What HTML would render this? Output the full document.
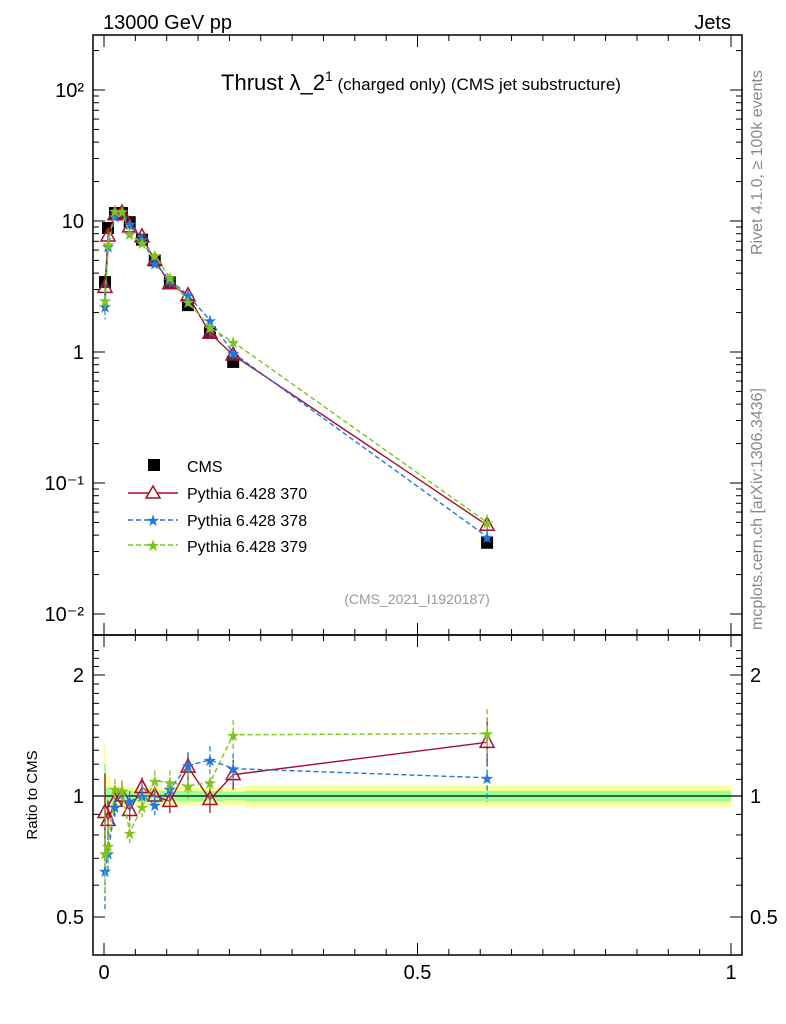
<!DOCTYPE html>
<html><head><meta charset="utf-8"><style>
body{margin:0;background:#fff;}
svg{font-family:"Liberation Sans",sans-serif;display:block}
</style></head><body>
<svg id="c" width="786" height="1024" xmlns="http://www.w3.org/2000/svg">
<rect x="93" y="35" width="649" height="600" fill="none" stroke="#000" stroke-width="1.5"/>
<rect x="93" y="635" width="649" height="320" fill="none" stroke="#000" stroke-width="1.5"/>
<g id="bands"></g><g id="ticks"></g><g id="marks"></g>
<text x="103" y="29" font-size="20">13000 GeV pp</text>
<text x="731" y="29" font-size="20" text-anchor="end">Jets</text>
<text x="421" y="90" font-size="22" text-anchor="middle">Thrust λ_2<tspan font-size="14" dy="-9">1</tspan><tspan font-size="17" dy="9"> (charged only) (CMS jet substructure)</tspan></text>
<text x="417" y="604" font-size="14" fill="#999" text-anchor="middle">(CMS_2021_I1920187)</text>
<text transform="translate(762,255) rotate(-90)" font-size="16" fill="#888">Rivet 4.1.0, ≥ 100k events</text>
<text transform="translate(762,630) rotate(-90)" font-size="16" fill="#888">mcplots.cern.ch [arXiv:1306.3436]</text>
<text transform="translate(37,795) rotate(-90)" font-size="15" text-anchor="middle">Ratio to CMS</text>
<g>
<rect x="148" y="459" width="12" height="12" fill="#000"/>
<text x="187" y="472" font-size="16">CMS</text>
<line x1="128" y1="493" x2="178" y2="493" stroke="#a50f2b" stroke-width="1.5"/>
<polygon points="153,486 160,498 146,498" fill="#fff" stroke="#a50f2b" stroke-width="1.5"/>
<text x="187" y="499" font-size="16">Pythia 6.428 370</text>
<line x1="128" y1="520" x2="178" y2="520" stroke="#1f77e0" stroke-width="1.5" stroke-dasharray="5,3"/>
<text x="153" y="526" font-size="16" fill="#1f77e0" text-anchor="middle">★</text>
<text x="187" y="526" font-size="16">Pythia 6.428 378</text>
<line x1="128" y1="545" x2="178" y2="545" stroke="#7fc31c" stroke-width="1.5" stroke-dasharray="5,3"/>
<text x="153" y="551" font-size="16" fill="#7fc31c" text-anchor="middle">★</text>
<text x="187" y="552" font-size="16">Pythia 6.428 379</text>
</g>
</svg>
<script>
const binEdges=[0,0.003,0.01,0.02,0.035,0.05,0.07,0.09,0.12,0.15,0.19,0.225,1.0];
const xVals=[0.0016,0.0064,0.0175,0.0287,0.041,0.0606,0.081,0.105,0.134,0.169,0.206,0.611];
const cmsVals=[3.42,8.84,11.5,11.5,9.8,7.2,5.0,3.42,2.28,1.42,0.84,0.035];
const cmsTotErr=[0.35,0.12,0.06,0.06,0.05,0.05,0.05,0.05,0.05,0.05,0.05,0.06];
const cmsStatErr=[0.2,0.05,0.03,0.03,0.03,0.03,0.03,0.03,0.03,0.03,0.025,0.03];
const ratio370=[0.91,0.87,0.97,1.0,0.92,1.05,1.0,0.97,1.18,0.98,1.13,1.36];
const ratio378=[0.65,0.72,0.94,1.03,0.97,1.0,0.95,1.04,1.19,1.23,1.17,1.11];
const ratio379=[0.72,0.75,1.04,1.03,0.81,0.94,1.09,1.08,1.06,1.08,1.42,1.43];
const relErr=[0.25,0.12,0.06,0.06,0.06,0.06,0.06,0.07,0.08,0.08,0.09,0.15];
const yTickLabels=["10⁻²","10⁻¹","1","10","10²"];
const yTickVals=[0.01,0.1,1,10,100];
const rTickVals=[0.5,1,2];
const rTickLabels=["0.5","1","2"];
const xTickVals=[0,0.5,1];
const xTickLabels=["0","0.5","1"];

const NS="http://www.w3.org/2000/svg";
const X=v=>104+627*v;
const Y=v=>352-131*Math.log10(v);
const R=v=>796-402*Math.log10(v);
function mk(tag,attrs,parent){const e=document.createElementNS(NS,tag);for(const k in attrs)e.setAttribute(k,attrs[k]);document.getElementById(parent).appendChild(e);return e;}

binEdges.slice(0,-1).forEach((e0,i)=>{
 const x0=X(e0),x1=X(binEdges[i+1]);
 let r=mk('rect',{x:x0,y:R(1+cmsTotErr[i]),width:x1-x0,height:R(1-cmsTotErr[i])-R(1+cmsTotErr[i]),fill:'#ffff99'},'bands');
 
 
 r=mk('rect',{x:x0,y:R(1+cmsStatErr[i]),width:x1-x0,height:R(1-cmsStatErr[i])-R(1+cmsStatErr[i]),fill:'#99ff99'},'bands');
 
 
});
let l=mk('line',{x1:93,x2:742,y1:R(1),y2:R(1),stroke:'#000','stroke-width':1.2},'bands');



for(let d=-2;d<=2;d++){
 for(let m=1;m<10;m++){
  const v=m*Math.pow(10,d);const y=Y(v);
  if(y<36||y>634)continue;
  const len=m===1?12:6;
  mk('line',{x1:93,x2:93+len,y1:y,y2:y,stroke:'#000'},'ticks');
  mk('line',{x1:742,x2:742-len,y1:y,y2:y,stroke:'#000'},'ticks');
 }
}
yTickVals.forEach((v,i)=>{
 const t=mk('text',{x:84,y:Y(v)+7,'font-size':20,'text-anchor':'end'},'ticks');t.textContent=yTickLabels[i];
 
 
});
for(let v=0.4;v<=2.35;v+=0.1){const y=R(v);if(y<636||y>954)continue;
 const len=(Math.abs(v-1)<1e-6||Math.abs(v-2)<1e-6||Math.abs(v-0.5)<1e-6)?12:6;
 mk('line',{x1:93,x2:93+len,y1:y,y2:y,stroke:'#000'},'ticks');
 mk('line',{x1:742,x2:742-len,y1:y,y2:y,stroke:'#000'},'ticks');}
rTickVals.forEach((v,i)=>{
 let t=mk('text',{x:84,y:R(v)+7,'font-size':20,'text-anchor':'end'},'ticks');t.textContent=rTickLabels[i];
 
 
 t=mk('text',{x:750,y:R(v)+7,'font-size':20},'ticks');t.textContent=rTickLabels[i];
 
 
});
for(let v=0;v<=1.0001;v+=0.05){const x=X(v);const len=Math.abs(v*2-Math.round(v*2))<1e-6?12:6;
 [[35,1],[635,1],[635,-1],[955,-1]].forEach(([y,s])=>mk('line',{x1:x,x2:x,y1:y,y2:y+s*len,stroke:'#000'},'ticks'));}
xTickVals.forEach((v,i)=>{
 const t=mk('text',{x:X(v),y:979,'font-size':20,'text-anchor':'middle'},'ticks');t.textContent=xTickLabels[i];
 
 
});

const series=[
 {name:'370',r:ratio370,c:'#a50f2b',dash:'',m:'tri'},
 {name:'378',r:ratio378,c:'#1f77e0',dash:'5,3',m:'star'},
 {name:'379',r:ratio379,c:'#7fc31c',dash:'5,3',m:'star'}
];
cmsVals.forEach((v,i)=>{
 const r=mk('rect',{x:X(xVals[i])-6,y:Y(v)-6,width:12,height:12,fill:'#000'},'marks');
 
 
});
series.forEach(s=>{
 const mv=cmsVals.map((v,i)=>v*s.r[i]);
 let p=mk('polyline',{points:mv.map((v,i)=>X(xVals[i])+','+Y(v)).join(' '),fill:'none',stroke:s.c,'stroke-width':1.4,'stroke-dasharray':s.dash},'marks');
 
 
 p=mk('polyline',{points:s.r.map((v,i)=>X(xVals[i])+','+R(v)).join(' '),fill:'none',stroke:s.c,'stroke-width':1.4,'stroke-dasharray':s.dash},'marks');
 
 
 [[mv,Y],[s.r,R]].forEach(([vals,F])=>{
  vals.forEach((v,i)=>{
   const x=X(xVals[i]);
   const e=mk('line',{x1:x,x2:x,y1:F(v*(1+relErr[i])),y2:F(v/(1+relErr[i])),stroke:s.c,'stroke-width':1.3,'stroke-dasharray':s.dash},'marks');
   
   
   const y=F(v);let m;
   if(s.m==='tri'){m=mk('polygon',{points:`${x},${y-8} ${x+7},${y+5} ${x-7},${y+5}`,fill:'#fff','fill-opacity':0.2,stroke:s.c,'stroke-width':1.5},'marks');}
   else{m=mk('text',{x:x,y:y+6,'font-size':16,fill:s.c,'text-anchor':'middle'},'marks');m.textContent='★';}
   
   
  });
 });
});
</script>
</body></html>
